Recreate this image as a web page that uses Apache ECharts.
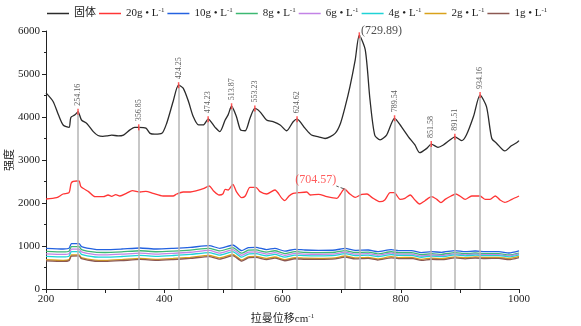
<!DOCTYPE html>
<html>
<head>
<meta charset="utf-8">
<script src="https://cdn.jsdelivr.net/npm/echarts@6/dist/echarts.min.js"></script>
<style>
  html, body { margin: 0; padding: 0; background: #fff; }
  #main { width: 581px; height: 326px; }
</style>
</head>
<body>
<div id="main"></div>
<script>
// solid sample
var solidX = [200, 212, 221, 229, 239, 242, 249, 254.16, 260, 269, 280, 288, 296, 303, 311, 322, 331, 342, 350, 356.85,
  369, 376, 384, 396, 404, 415, 424.25, 432, 441, 449, 458, 466, 474.23, 486, 494, 503, 508, 513.87, 522, 529,
  537, 545, 553.23, 562, 573, 584, 596, 607, 618, 624.62, 638, 649, 661, 672, 689, 698, 706, 714, 723, 729.89,
  740, 748, 756, 765, 776, 789.54, 801, 813, 824, 832, 844, 851.58, 863, 872, 883, 891.51, 903, 911, 923, 934.16,
  945, 954, 962, 976, 987, 996, 1000];
var solidY = [4560, 4360, 4050, 3815, 3760, 3990, 4050, 4120, 3930, 3850, 3660, 3570, 3550, 3560, 3580, 3560, 3580, 3700, 3760, 3760,
  3740, 3620, 3600, 3620, 3850, 4360, 4740, 4670, 4360, 4010, 3815, 3815, 3950, 3760, 3660, 3930, 4050, 4250, 4010, 3700,
  3680, 3970, 4200, 4120, 3930, 3890, 3815, 3680, 3890, 3950, 3740, 3580, 3540, 3500, 3620, 3850, 4240, 4700, 5330, 5900,
  5560, 4400, 3580, 3470, 3580, 3970, 3775, 3540, 3350, 3170, 3270, 3370, 3295, 3350, 3465, 3540, 3450, 3580, 4010, 4510,
  4240, 3500, 3390, 3210, 3330, 3400, 3450];

// 20 g/L
var redX = [200, 218, 229, 239, 243, 252, 256, 259, 272, 283, 297, 305, 311, 318, 325, 336, 346, 359, 369, 381,
  398, 415, 421, 432, 444, 455, 466, 476, 483, 493, 499, 503, 508, 516, 522, 531, 537, 545, 555, 562,
  573, 587, 599, 604, 611, 618, 627, 641, 647, 661, 675, 692, 698, 704.57, 714, 723, 734, 743, 751, 765,
  773, 782, 789, 799, 807, 816, 824, 832, 841, 852, 861, 868, 875, 885, 893, 900, 909, 920, 934, 943,
  951, 960, 968, 976, 988, 1000];
var redY = [2093, 2124, 2209, 2240, 2473, 2512, 2512, 2380, 2264, 2147, 2147, 2186, 2155, 2194, 2163, 2225, 2287, 2256, 2272, 2225,
  2163, 2163, 2209, 2256, 2256, 2287, 2333, 2395, 2287, 2186, 2209, 2318, 2302, 2434, 2264, 2124, 2163, 2364, 2364, 2264,
  2209, 2302, 2108, 2054, 2163, 2225, 2240, 2256, 2186, 2202, 2147, 2108, 2209, 2326, 2209, 2132, 2202, 2209, 2132, 2031,
  2070, 2240, 2240, 2085, 2108, 2186, 2070, 1977, 2054, 2147, 2085, 2008, 2085, 2163, 2209, 2163, 2085, 2163, 2163, 2085,
  2085, 2163, 2070, 2016, 2085, 2163];

// lower concentrations share one x grid
var lowX = [200, 229, 239, 243, 256, 260, 283, 300, 328, 359, 387, 415, 444, 476, 494, 516, 531, 542, 555, 573,
  587, 604, 621, 638, 661, 689, 706, 723, 745, 761, 784, 796, 818, 835, 852, 869, 892, 909, 926, 943,
  966, 983, 1000];
var y10 = [946, 930, 946, 1054, 1054, 985, 923, 915, 930, 954, 930, 946, 969, 1008, 946, 1023, 892, 962, 969, 915,
  946, 880, 923, 907, 900, 907, 946, 900, 907, 868, 915, 892, 892, 845, 868, 853, 892, 868, 884, 868,
  868, 837, 884];
var y8 = [876, 862, 878, 985, 986, 918, 856, 849, 864, 889, 866, 882, 906, 946, 885, 962, 832, 902, 910, 857,
  889, 824, 868, 853, 847, 855, 894, 849, 857, 818, 866, 843, 844, 797, 820, 806, 845, 821, 837, 822,
  822, 791, 836];
var y6 = [818, 804, 820, 926, 928, 861, 800, 794, 810, 836, 813, 830, 855, 896, 836, 914, 785, 856, 865, 813,
  846, 782, 827, 813, 808, 817, 857, 813, 822, 784, 833, 811, 813, 767, 791, 778, 818, 795, 812, 798,
  799, 769, 815];
var y4 = [760, 746, 762, 868, 870, 804, 744, 739, 756, 783, 761, 779, 805, 847, 788, 867, 739, 811, 821, 770,
  804, 741, 787, 774, 770, 780, 821, 778, 788, 751, 801, 780, 783, 738, 763, 751, 792, 770, 788, 775,
  777, 748, 795];
var y2 = [680, 667, 684, 791, 794, 729, 670, 666, 684, 712, 691, 710, 737, 780, 722, 802, 675, 748, 759, 709,
  744, 682, 729, 717, 714, 725, 767, 725, 736, 700, 751, 731, 735, 691, 717, 706, 748, 727, 746, 734,
  737, 709, 757];
var y1 = [655, 642, 659, 766, 769, 704, 645, 641, 659, 687, 666, 685, 712, 755, 697, 777, 650, 723, 734, 684,
  719, 657, 704, 692, 689, 700, 742, 700, 711, 675, 726, 706, 710, 666, 692, 681, 723, 702, 721, 709,
  712, 684, 732];

// marked peaks
var peakX = [254.16, 356.85, 424.25, 474.23, 513.87, 553.23, 624.62, 789.54, 851.58, 891.51, 934.16];
var peakY = [4120, 3760, 4740, 3950, 4250, 4200, 3950, 3970, 3370, 3540, 4510];
var mainPeak = [729.89, 5900];
var redPeak = [704.57, 2326];

var names = ['固体', '20g', '10g', '8g', '6g', '4g', '2g', '1g'];
var colors = ['#2b2b2b', '#ff3535', '#2462e0', '#3db872', '#c383e6', '#1fd3d6', '#d9a21b', '#8c5852'];

var serif = '"Liberation Serif", "Noto Sans CJK SC", serif';

function pairs(xs, ys) {
  return xs.map(function (x, i) { return [x, ys[i]]; });
}

var lineData = [
  pairs(solidX, solidY), pairs(redX, redY),
  pairs(lowX, y10), pairs(lowX, y8), pairs(lowX, y6), pairs(lowX, y4), pairs(lowX, y2), pairs(lowX, y1)
];

var vlines = peakX.concat([mainPeak[0], redPeak[0]]).map(function (x, i) {
  var y = i < peakX.length ? peakY[i] : (i === peakX.length ? mainPeak[1] : redPeak[1]);
  return [{ coord: [x, y] }, { coord: [x, 0] }];
});

var series = [{
  type: 'line',
  data: [],
  z: 1,
  silent: true,
  markLine: {
    silent: true,
    symbol: ['none', 'none'],
    label: { show: false },
    lineStyle: { color: '#b4b4b4', width: 1.5, type: 'solid' },
    data: vlines
  }
}];

names.forEach(function (n, i) {
  series.push({
    name: n,
    type: 'line',
    data: lineData[i],
    symbol: 'none',
    smooth: i < 2 ? 0.25 : 0.2,
    z: 3,
    lineStyle: { color: colors[i], width: 1.3 },
    itemStyle: { color: colors[i] }
  });
});

// peak ticks and labels
series.push({
  type: 'scatter',
  z: 6,
  silent: true,
  data: pairs(peakX, peakY),
  symbol: 'rect',
  symbolSize: [1.5, 6],
  itemStyle: { color: '#ff3030' },
  label: {
    show: true,
    position: 'top',
    distance: 3,
    rotate: 90,
    align: 'left',
    verticalAlign: 'middle',
    fontFamily: serif,
    fontSize: 8,
    color: '#333',
    formatter: function (p) { return p.value[0].toFixed(2); }
  }
});
series.push({
  type: 'scatter',
  z: 6,
  silent: true,
  data: [mainPeak],
  symbol: 'rect',
  symbolSize: [1.5, 6],
  itemStyle: { color: '#ff3030' },
  label: {
    show: true,
    position: 'right',
    distance: 1,
    offset: [0, -4],
    fontFamily: serif,
    fontSize: 12,
    color: '#222',
    formatter: '(729.89)'
  }
});
series.push({
  type: 'scatter',
  z: 6,
  silent: true,
  data: [redPeak],
  symbolSize: 0,
  label: {
    show: true,
    position: 'left',
    distance: 8,
    offset: [0, -9],
    fontFamily: serif,
    fontSize: 12,
    color: '#ff3535',
    formatter: '(704.57)'
  },
  labelLine: { show: true, length2: 0, lineStyle: { color: '#555', type: 'dashed', width: 1 } }
});

var chart = echarts.init(document.getElementById('main'));
chart.setOption({
  animation: false,
  backgroundColor: '#fff',
  legend: {
    data: names,
    top: 2,
    left: 42,
    width: 539,
    icon: 'rect',
    itemWidth: 22,
    itemHeight: 1.5,
    itemGap: 3,
    textStyle: {
      fontFamily: serif,
      fontSize: 11,
      color: '#222',
      rich: {
        c: { fontFamily: serif, fontSize: 11, color: '#222' },
        t: { fontFamily: serif, fontSize: 11, color: '#222' },
        s: { fontFamily: serif, fontSize: 7, color: '#222', padding: [0, 0, 6, 0] }
      }
    },
    formatter: function (n) {
      return n === '固体' ? '{c|固体}' : '{t|' + n + ' • L}{s|-1}';
    }
  },
  grid: { left: 46, right: 62, top: 31, bottom: 37, containLabel: false, outerBoundsMode: 'none' },
  xAxis: {
    type: 'value',
    min: 200,
    max: 1000,
    interval: 100,
    name: '{a|拉曼位移cm}{s|-1}',
    nameLocation: 'middle',
    nameGap: 24,
    nameMoveOverlap: false,
    nameTextStyle: {
      rich: {
        a: { fontFamily: serif, fontSize: 11, color: '#222' },
        s: { fontFamily: serif, fontSize: 7, color: '#222', padding: [0, 0, 6, 0] }
      }
    },
    axisLine: { onZero: false, lineStyle: { color: '#222', width: 1 } },
    axisTick: { show: true, length: 4, lineStyle: { color: '#222' } },
    splitLine: { show: false },
    axisLabel: {
      margin: 5,
      fontFamily: serif,
      fontSize: 11,
      color: '#222',
      formatter: function (v) { return v % 200 === 0 ? String(v) : ''; }
    }
  },
  yAxis: {
    type: 'value',
    min: 0,
    max: 6000,
    interval: 1000,
    name: '强度',
    nameLocation: 'middle',
    nameRotate: 90,
    nameGap: 30,
    nameMoveOverlap: false,
    nameTextStyle: { fontFamily: serif, fontSize: 11, color: '#222' },
    axisLine: { show: true, lineStyle: { color: '#222', width: 1 } },
    axisTick: { show: true, length: 4, lineStyle: { color: '#222' } },
    minorTick: { show: true, splitNumber: 2, length: 2, lineStyle: { color: '#222' } },
    splitLine: { show: false },
    axisLabel: {
      margin: 6, fontFamily: serif, fontSize: 11, color: '#222',
      formatter: function (v) { return String(v); }
    }
  },
  series: series
});
window.addEventListener('resize', function () { chart.resize(); });
</script>
</body>
</html>
